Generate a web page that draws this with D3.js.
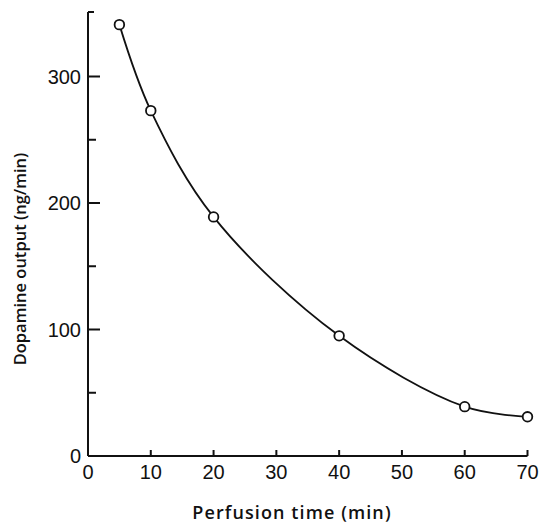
<!DOCTYPE html>
<html>
<head>
<meta charset="utf-8">
<script src="https://cdn.jsdelivr.net/npm/d3@7"></script>
<style>
  html, body { margin: 0; padding: 0; background: #fff; }
  svg { display: block; }
  text { fill: #111; }
</style>
</head>
<body>
<script>
// Data
const times = [5, 10, 20, 40, 60, 70];
const dopamine = [341, 273, 189, 95, 39, 31];
const xTicks = [0, 10, 20, 30, 40, 50, 60, 70];
const yTicks = [0, 100, 200, 300];
const yMinorTicks = [50, 150, 250];
const xTitle = "Perfusion time (min)";
const yTitle = "Dopamine output (ng/min)";

const W = 539, H = 528;
const svg = d3.select("body").append("svg").attr("width", W).attr("height", H);

const x = d3.scaleLinear().domain([0, 70]).range([88, 527.5]);
const y = d3.scaleLinear().domain([0, 300]).range([456, 76.5]);

const ink = "#111";
const labelFont = "'Liberation Sans', Arial, sans-serif";

// Y axis line
svg.append("line")
  .attr("x1", x(0)).attr("x2", x(0))
  .attr("y1", y(0)).attr("y2", 12)
  .attr("stroke", ink).attr("stroke-width", 2);
// top serif tick
svg.append("line")
  .attr("x1", x(0)).attr("x2", x(0) + 6)
  .attr("y1", 12).attr("y2", 12)
  .attr("stroke", ink).attr("stroke-width", 2);

// X axis line
svg.append("line")
  .attr("x1", x(0)).attr("x2", x(70))
  .attr("y1", y(0)).attr("y2", y(0))
  .attr("stroke", ink).attr("stroke-width", 2);

// Y ticks (inward)
svg.selectAll(".ytick").data(yTicks.slice(1)).enter().append("line")
  .attr("x1", x(0)).attr("x2", x(0) + 12)
  .attr("y1", d => y(d)).attr("y2", d => y(d))
  .attr("stroke", ink).attr("stroke-width", 2);
svg.selectAll(".ymtick").data(yMinorTicks).enter().append("line")
  .attr("x1", x(0)).attr("x2", x(0) + 8)
  .attr("y1", d => y(d)).attr("y2", d => y(d))
  .attr("stroke", ink).attr("stroke-width", 2);

// Y tick labels
svg.selectAll(".ylab").data(yTicks).enter().append("text")
  .attr("x", 81).attr("y", d => y(d))
  .attr("dy", "0.36em")
  .attr("text-anchor", "end")
  .style("font-family", labelFont).style("font-size", "20px")
  .text(d => d);

// X ticks (inward)
svg.selectAll(".xtick").data(xTicks.slice(1)).enter().append("line")
  .attr("x1", d => x(d)).attr("x2", d => x(d))
  .attr("y1", y(0)).attr("y2", y(0) - 6)
  .attr("stroke", ink).attr("stroke-width", 2);

// X tick labels
svg.selectAll(".xlab").data(xTicks).enter().append("text")
  .attr("x", d => x(d)).attr("y", 479)
  .attr("text-anchor", "middle")
  .style("font-family", labelFont).style("font-size", "20px")
  .text(d => d);

// Titles
svg.append("text")
  .attr("x", 292).attr("y", 519)
  .attr("text-anchor", "middle")
  .style("font-family", "'Open Sans', sans-serif").style("font-size", "18px").style("font-weight", 600)
  .style("letter-spacing", "1.1px")
  .text(xTitle);

svg.append("text")
  .attr("transform", "translate(26,259) rotate(-90)")
  .attr("text-anchor", "middle")
  .style("font-family", "'Open Sans', sans-serif").style("font-size", "16.5px").style("font-weight", 600)
  .text(yTitle);

// Curve
const pts = times.map((t, i) => [t, dopamine[i]]);
const line = d3.line()
  .x(d => x(d[0])).y(d => y(d[1]))
  .curve(d3.curveCatmullRom.alpha(0.5));
svg.append("path")
  .attr("d", line(pts))
  .attr("fill", "none").attr("stroke", ink).attr("stroke-width", 1.8);

// Points
svg.selectAll(".pt").data(pts).enter().append("circle")
  .attr("cx", d => x(d[0])).attr("cy", d => y(d[1]))
  .attr("r", 4.8)
  .attr("fill", "#fff").attr("stroke", ink).attr("stroke-width", 1.8);
</script>
</body>
</html>
